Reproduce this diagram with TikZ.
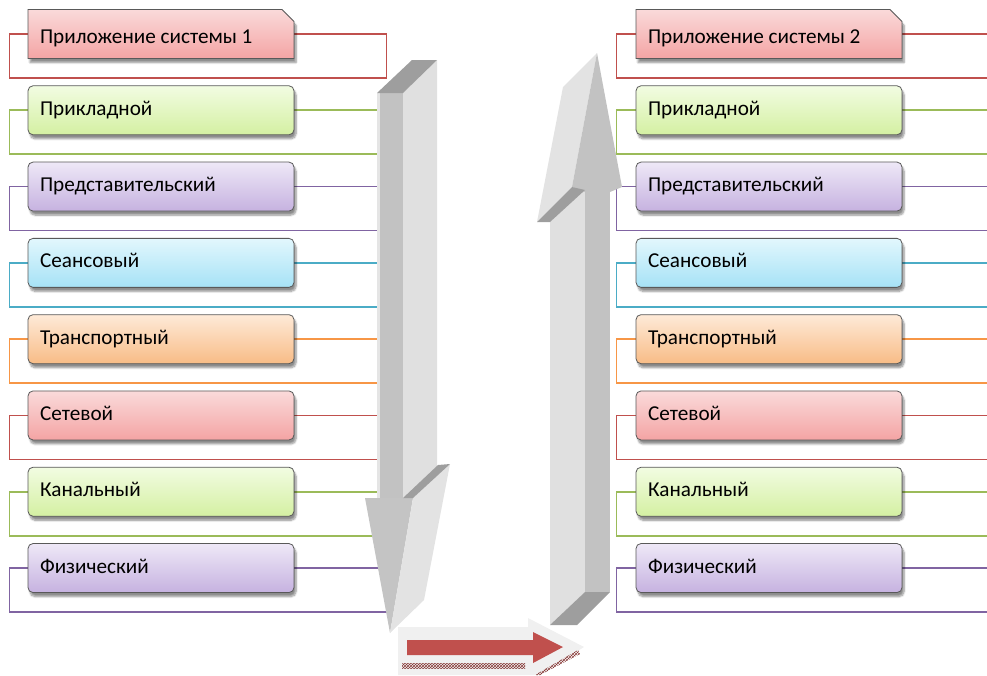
\documentclass[tikz,border=0pt]{standalone}
\usepackage{fontspec}
\setmainfont{Carlito}
\usetikzlibrary{shapes.misc}
\usetikzlibrary{shadows.blur}
\usetikzlibrary{patterns}
\usetikzlibrary{backgrounds}
\definecolor{redtop}{HTML}{FADADA}
\definecolor{redbot}{HTML}{F4A4A4}
\definecolor{greentop}{HTML}{F2FCE2}
\definecolor{greenbot}{HTML}{D4F0A2}
\definecolor{purpletop}{HTML}{EEE8F7}
\definecolor{purplebot}{HTML}{C6B2E0}
\definecolor{cyantop}{HTML}{E2F7FD}
\definecolor{cyanbot}{HTML}{A6E2F6}
\definecolor{orangetop}{HTML}{FEEAD8}
\definecolor{orangebot}{HTML}{F8BC86}
\definecolor{redln}{HTML}{C0504D}
\definecolor{greenln}{HTML}{9BBB59}
\definecolor{purpleln}{HTML}{8064A2}
\definecolor{cyanln}{HTML}{4BACC6}
\definecolor{orangeln}{HTML}{F79646}
\newcommand{\laytext}[1]{\makebox[242pt][l]{#1}}
\tikzstyle{layer}=[draw=black!65, line width=0.8pt, rounded corners=5pt,
  minimum width=266, minimum height=49, inner xsep=12pt,
  font=\fontsize{21.2}{24}\selectfont, text height=14.2pt, text depth=4.2pt,
  blur shadow={shadow xshift=2pt, shadow yshift=-4pt, shadow blur steps=7, shadow opacity=45}]
\tikzstyle{snipped}=[rounded corners=0pt, chamfered rectangle, chamfered rectangle corners=north east,
  chamfered rectangle xsep=6pt, chamfered rectangle ysep=6pt, inner xsep=6pt,
  text height=18pt, text depth=0pt]
\tikzstyle{boxred}=[top color=redtop, bottom color=redbot]
\tikzstyle{boxgreen}=[top color=greentop, bottom color=greenbot]
\tikzstyle{boxpurple}=[top color=purpletop, bottom color=purplebot]
\tikzstyle{boxcyan}=[top color=cyantop, bottom color=cyanbot]
\tikzstyle{boxorange}=[top color=orangetop, bottom color=orangebot]
\tikzstyle{frame}=[line width=1.7pt]
\tikzset{every picture/.style={x=1pt, y=-1pt}}

\begin{document}
\begin{tikzpicture}
  \useasboundingbox (0,0) rectangle (987,675);
  \clip (0,0) rectangle (987,675);
  % layer boxes
  \node[layer, boxred, snipped] at (161,34) (l1) {\laytext{Приложение системы 1}};
  \node[layer, boxred, snipped] at (769,34) (r1) {\laytext{Приложение системы 2}};
  \foreach \i/\c/\t in {2/green/Прикладной, 3/purple/Представительский, 4/cyan/Сеансовый,
      5/orange/Транспортный, 6/red/Сетевой, 7/green/Канальный, 8/purple/Физический} {
    \node[layer, box\c] at (161,{34+76.29*(\i-1)}) (l\i) {\laytext{\t}};
    \node[layer, box\c] at (769,{34+76.29*(\i-1)}) (r\i) {\laytext{\t}};
  }
  % frames round the boxes
  \begin{pgfonlayer}{background}
    \foreach \i/\c in {1/red, 2/green, 3/purple, 4/cyan, 5/orange, 6/red, 7/green, 8/purple} {
      \draw[frame, \c ln] (l\i.west) -- ++(-18,0) |- ++(377,44) |- (l\i.east);
      \draw[frame, \c ln] (r\i.east) -- ++(100,0);
      \draw[frame, \c ln] (r\i.west) -- ++(-19,0) |- ++(400,44);
    }
  \end{pgfonlayer}
  % down arrow
  \fill[black!24] (377,93) -- (403,93) -- (403,498) -- (378,498) -- cycle;
  \fill[black!10] (377,93) rectangle (380,498);
  \fill[black!12] (403,93) -- (437,60) -- (437,477) -- (403,498) -- cycle;
  \fill[black!38] (377,93) -- (403,93) -- (437,60) -- (412,60) -- cycle;
  \fill[black!23] (365,498) -- (413,498) -- (390,633) -- cycle;
  \fill[black!11] (413,498) -- (450,464) -- (424,600) -- (390,633) -- cycle;
  \fill[black!38] (403,498) -- (413,498) -- (450,464) -- (438,465) -- cycle;
  % up arrow
  \fill[black!12] (550,222) -- (585,180) -- (585,592) -- (550,625) -- cycle;
  \fill[black!24] (585,180) -- (610,180) -- (610,592) -- (585,592) -- cycle;
  \fill[black!38] (550,625) -- (577,625) -- (610,592) -- (585,592) -- cycle;
  \fill[black!11] (597,53) -- (563,87) -- (537,222) -- (572,187) -- cycle;
  \fill[black!24] (597,53) -- (622,187) -- (610,192) -- (585,192) -- (572,187) -- cycle;
  \fill[black!38] (537,222) -- (550,222) -- (585,190) -- (572,187) -- cycle;
  % red arrow
  \fill[black!6] (398,627) -- (528,627) -- (528,618) -- (584,647) -- (540,675) -- (398,675) -- cycle;
  \fill[redln] (407,640) -- (533,640) -- (533,632) -- (563,647) -- (533,663) -- (533,655) -- (407,655) -- cycle;
  \fill[pattern=crosshatch, pattern color=redln!70!black] (402,663) rectangle (525,668);
  \fill[pattern=crosshatch, pattern color=redln!70!black] (535,675) -- (578,650) -- (580,654) -- (540,675) -- cycle;
\end{tikzpicture}
\end{document}
